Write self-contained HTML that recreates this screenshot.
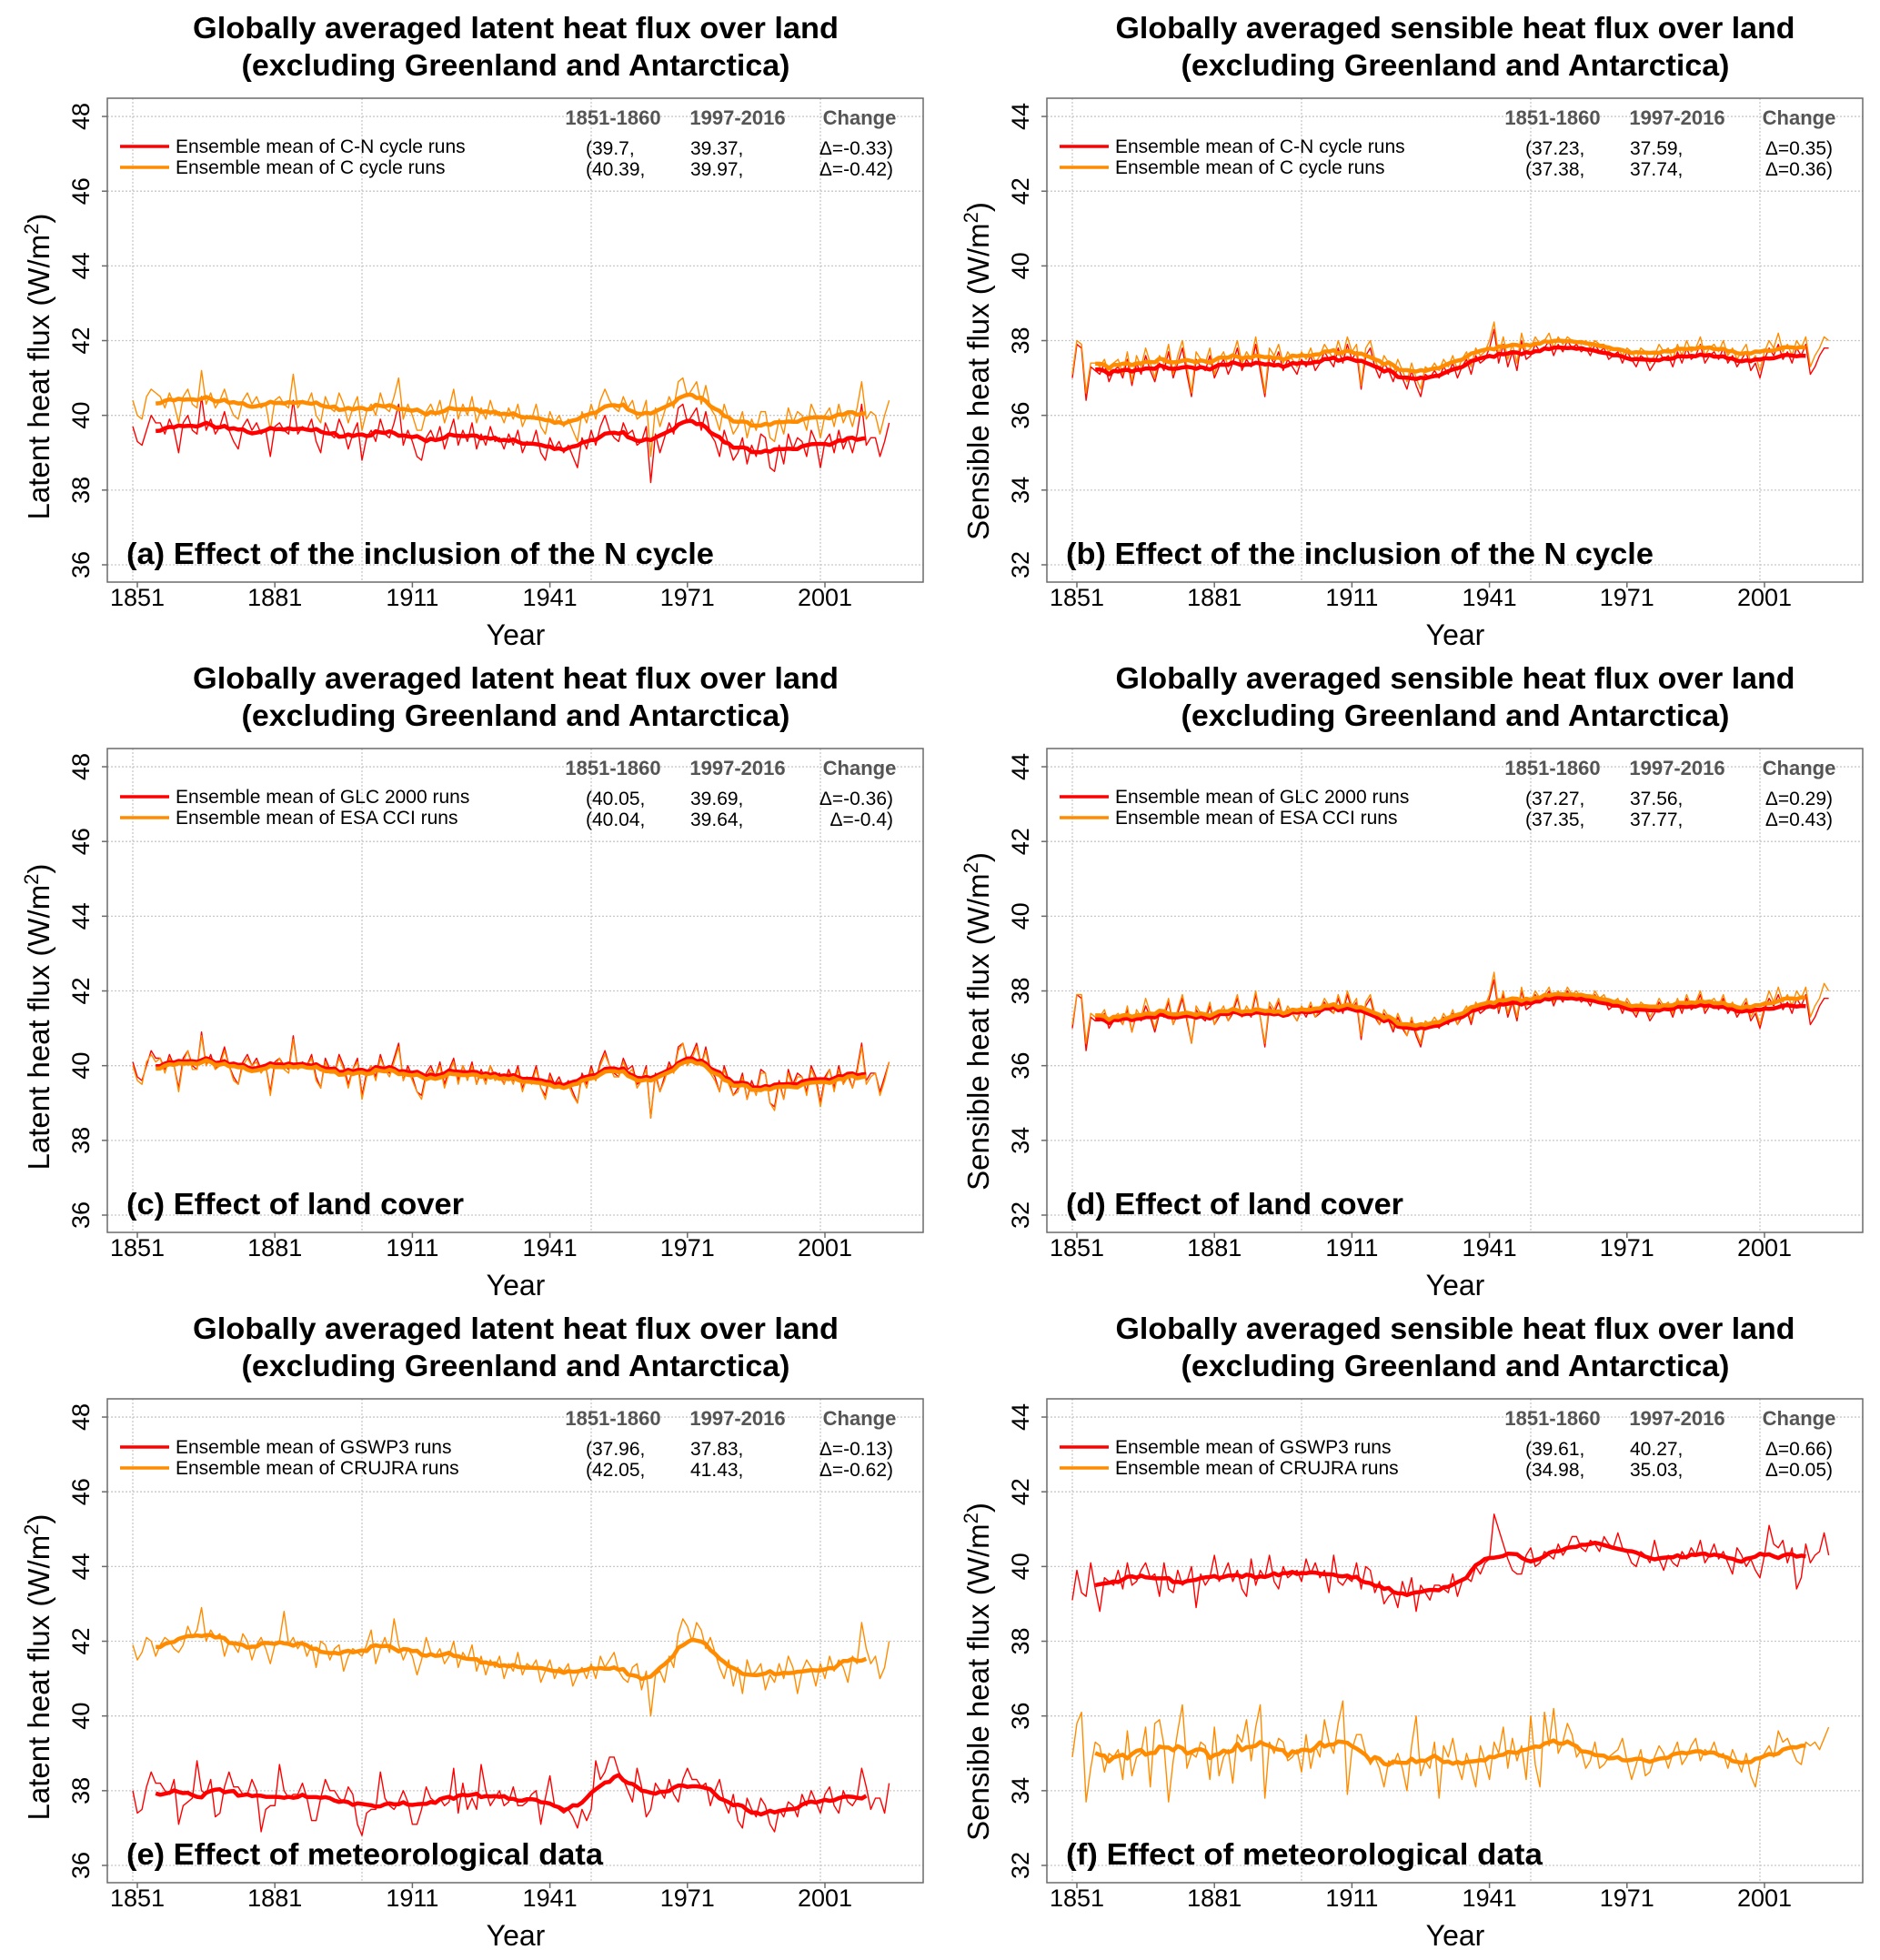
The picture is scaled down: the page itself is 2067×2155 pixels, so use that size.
<!DOCTYPE html>
<html><head><meta charset="utf-8">
<style>
html,body{margin:0;padding:0;background:#fff;}
svg{display:block;}
text{font-family:"Liberation Sans","DejaVu Sans",sans-serif;}
</style></head>
<body>
<svg id="fig" width="2067" height="2155" viewBox="0 0 2067 2155" xmlns="http://www.w3.org/2000/svg"></svg>
<script>
// ---- data (annual values 1851-2016) ----
const startYear = 1851;
const latentTicks = [36, 38, 40, 42, 44, 46, 48];
const sensibleTicks = [32, 34, 36, 38, 40, 42, 44];
const xTickLabels = [1851, 1881, 1911, 1941, 1971, 2001];
const xGridYears = [1851, 1901, 1951, 2001];

const aCN = [39.7,39.3,39.2,39.6,40.0,39.8,39.8,39.5,39.9,39.6, 39.0,39.8,40.0,39.6,39.5,40.5,39.6,39.9,39.5,39.7, 40.1,39.6,39.3,39.1,39.7,39.9,39.6,39.8,39.5,39.6, 38.9,39.7,39.8,39.6,39.5,40.4,39.5,39.7,39.6,39.9, 39.3,39.0,39.8,39.5,39.4,39.9,39.6,39.1,39.5,39.8, 38.8,39.4,39.6,39.3,39.9,39.5,39.4,39.8,40.3,39.2, 39.6,39.3,38.9,38.8,39.4,39.6,39.3,39.7,39.1,39.5, 39.9,39.2,39.6,39.3,39.8,39.1,39.5,39.2,39.7,39.3, 39.4,39.1,39.5,39.2,39.6,39.0,39.3,39.2,39.6,39.0, 38.8,39.4,39.1,39.3,39.0,39.2,38.9,38.6,39.4,39.1, 39.6,39.2,39.7,40.0,39.6,39.4,39.3,39.8,39.5,39.6, 39.2,39.3,39.7,38.2,39.5,39.0,39.4,39.8,39.5,40.2, 40.3,39.8,40.0,40.2,39.6,40.1,39.5,39.3,38.9,39.6, 39.2,38.8,39.0,39.4,38.7,39.2,38.9,39.5,39.4,38.6, 38.5,39.2,38.7,39.5,39.1,39.4,39.3,38.9,39.6,39.3, 38.6,39.3,39.5,39.0,39.6,39.1,39.4,39.0,39.5,40.3, 39.2,39.4,39.4,38.9,39.3,39.8];
const aC = [40.4,40.0,39.9,40.5,40.7,40.6,40.5,40.2,40.6,40.3, 39.8,40.5,40.7,40.3,40.2,41.2,40.3,40.6,40.2,40.4, 40.7,40.3,40.0,39.9,40.4,40.6,40.3,40.5,40.2,40.3, 39.6,40.4,40.5,40.3,40.2,41.1,40.2,40.4,40.3,40.6, 40.0,39.8,40.5,40.2,40.1,40.6,40.3,39.8,40.2,40.5, 39.6,40.1,40.3,40.0,40.6,40.2,40.1,40.5,41.0,39.9, 40.3,40.0,39.6,39.6,40.1,40.3,40.0,40.4,39.8,40.2, 40.7,39.9,40.3,40.0,40.5,39.8,40.2,39.9,40.4,40.0, 40.1,39.8,40.2,39.9,40.3,39.7,40.0,39.9,40.3,39.7, 39.5,40.1,39.8,40.0,39.7,39.9,39.6,39.3,40.1,39.8, 40.3,39.9,40.4,40.7,40.4,40.2,40.1,40.5,40.2,40.4, 39.9,40.0,40.4,38.9,40.2,39.7,40.1,40.5,40.2,40.9, 41.0,40.5,40.7,40.9,40.3,40.8,40.2,40.0,39.6,40.3, 39.9,39.5,39.7,40.1,39.4,39.9,39.6,40.1,40.1,39.4, 39.3,39.9,39.5,40.2,39.8,40.1,40.0,39.6,40.3,40.0, 39.4,40.0,40.2,39.7,40.3,39.8,40.1,39.7,40.2,40.9, 39.9,40.1,40.0,39.5,40.0,40.4];
const bCN = [37.0,37.9,37.8,36.4,37.3,37.2,37.1,37.4,36.9,37.2, 37.3,37.0,37.5,36.8,37.4,37.1,37.6,37.2,36.9,37.4, 37.2,37.7,37.0,37.4,37.8,37.1,36.5,37.5,37.3,37.2, 37.6,37.0,37.3,37.5,37.1,37.4,37.8,37.2,37.5,37.3, 37.9,37.2,36.5,37.6,37.4,37.7,37.2,37.5,37.3,37.1, 37.5,37.3,37.6,37.2,37.4,37.7,37.5,37.3,37.8,37.4, 37.9,37.5,37.7,36.7,37.6,37.8,37.3,37.0,37.4,37.2, 36.9,37.3,37.0,36.7,37.2,36.8,36.5,37.1,37.0,37.2, 37.0,37.3,37.1,37.4,37.0,37.3,37.5,37.1,37.6,37.4, 37.5,37.8,38.3,37.4,37.9,37.3,37.7,37.2,38.0,37.5, 37.6,37.9,37.7,37.8,38.0,37.6,37.9,37.7,38.0,37.8, 37.9,37.7,37.8,37.6,37.9,37.7,37.8,37.5,37.6,37.7, 37.4,37.7,37.5,37.3,37.6,37.5,37.2,37.4,37.7,37.5, 37.6,37.3,37.7,37.4,37.8,37.5,37.6,37.9,37.4,37.6, 37.7,37.5,37.8,37.4,37.6,37.3,37.5,37.7,37.2,37.4, 37.0,37.5,37.8,37.6,37.9,37.5,37.7,37.4,37.8,37.6, 37.9,37.1,37.3,37.6,37.8,37.8];
const bC = [37.1,38.0,37.9,36.6,37.4,37.4,37.3,37.5,37.1,37.4, 37.5,37.1,37.7,36.9,37.6,37.3,37.8,37.4,37.0,37.6, 37.4,37.9,37.1,37.6,38.0,37.3,36.6,37.7,37.5,37.4, 37.8,37.1,37.5,37.7,37.3,37.6,38.0,37.4,37.7,37.5, 38.1,37.4,36.6,37.8,37.6,37.9,37.4,37.7,37.5,37.3, 37.7,37.5,37.8,37.4,37.6,37.9,37.7,37.5,38.0,37.6, 38.1,37.7,37.9,36.8,37.8,38.0,37.5,37.2,37.6,37.4, 37.1,37.5,37.2,36.9,37.4,37.0,36.7,37.3,37.2,37.4, 37.2,37.5,37.3,37.6,37.2,37.5,37.7,37.3,37.8,37.6, 37.7,38.0,38.5,37.6,38.1,37.5,37.9,37.4,38.2,37.7, 37.8,38.1,37.9,38.0,38.2,37.8,38.1,37.9,38.1,38.0, 38.0,37.9,38.0,37.8,38.0,37.9,37.9,37.7,37.8,37.8, 37.6,37.8,37.7,37.5,37.8,37.7,37.4,37.6,37.9,37.7, 37.8,37.5,37.9,37.6,38.0,37.7,37.8,38.1,37.6,37.8, 37.9,37.7,38.0,37.6,37.8,37.5,37.7,37.9,37.4,37.6, 37.2,37.7,38.0,37.8,38.2,37.7,37.9,37.6,38.0,37.8, 38.1,37.3,37.6,37.8,38.1,38.0];
const cGLC = [40.1,39.7,39.6,40.0,40.4,40.2,40.2,39.9,40.3,40.0, 39.4,40.2,40.4,40.0,39.9,40.9,40.0,40.3,39.9,40.1, 40.5,40.0,39.7,39.5,40.1,40.3,40.0,40.2,39.9,40.0, 39.3,40.1,40.2,40.0,39.9,40.8,39.9,40.1,40.0,40.3, 39.7,39.4,40.2,39.9,39.8,40.3,40.0,39.5,39.9,40.2, 39.2,39.8,40.0,39.7,40.3,39.9,39.8,40.2,40.6,39.6, 40.0,39.7,39.3,39.2,39.8,40.0,39.7,40.1,39.5,39.9, 40.2,39.6,40.0,39.7,40.1,39.5,39.9,39.6,40.0,39.7, 39.8,39.5,39.9,39.6,40.0,39.4,39.7,39.6,40.0,39.4, 39.2,39.8,39.5,39.7,39.4,39.6,39.3,39.0,39.8,39.5, 40.0,39.6,40.1,40.4,40.0,39.8,39.7,40.2,39.9,40.0, 39.5,39.6,40.0,38.6,39.8,39.3,39.7,40.1,39.8,40.5, 40.6,40.1,40.3,40.6,40.0,40.5,39.9,39.7,39.3,40.0, 39.6,39.2,39.4,39.8,39.1,39.6,39.3,39.9,39.8,39.0, 38.9,39.6,39.1,39.9,39.5,39.8,39.7,39.3,40.0,39.7, 39.0,39.7,39.9,39.4,40.0,39.5,39.8,39.4,39.9,40.6, 39.6,39.8,39.8,39.3,39.7,40.1];
const cESA = [40.0,39.6,39.5,40.1,40.3,40.1,40.2,39.8,40.2,40.0, 39.3,40.1,40.4,39.9,39.9,40.8,40.0,40.2,39.9,40.0, 40.4,40.0,39.6,39.5,40.0,40.2,40.0,40.1,39.8,40.0, 39.2,40.0,40.2,39.9,39.8,40.7,39.9,40.0,40.0,40.2, 39.6,39.4,40.1,39.8,39.8,40.2,39.9,39.4,39.9,40.1, 39.1,39.7,40.0,39.6,40.2,39.9,39.7,40.1,40.5,39.6, 39.9,39.6,39.3,39.1,39.7,39.9,39.7,40.0,39.4,39.8, 40.1,39.5,40.0,39.6,40.0,39.5,39.8,39.5,40.0,39.6, 39.7,39.5,39.8,39.5,39.9,39.3,39.7,39.5,39.9,39.4, 39.1,39.7,39.4,39.6,39.4,39.5,39.2,39.0,39.7,39.4, 39.9,39.6,40.0,40.3,40.0,39.7,39.7,40.1,39.8,39.9, 39.4,39.6,39.9,38.6,39.7,39.3,39.6,40.0,39.8,40.4, 40.6,40.0,40.2,40.5,40.0,40.4,39.8,39.6,39.3,39.9, 39.5,39.2,39.3,39.7,39.1,39.5,39.2,39.8,39.8,39.0, 38.8,39.5,39.1,39.8,39.4,39.7,39.7,39.2,39.9,39.6, 38.9,39.6,39.9,39.3,39.9,39.5,39.7,39.4,39.8,40.5, 39.5,39.7,39.8,39.2,39.6,40.1];
const dGLC = [37.0,37.9,37.8,36.4,37.3,37.2,37.2,37.4,37.0,37.2, 37.3,37.1,37.5,36.9,37.4,37.2,37.6,37.3,36.9,37.4, 37.3,37.7,37.1,37.4,37.8,37.2,36.6,37.5,37.3,37.2, 37.6,37.1,37.3,37.5,37.2,37.4,37.8,37.3,37.5,37.3, 37.9,37.3,36.5,37.6,37.4,37.7,37.3,37.5,37.4,37.2, 37.5,37.3,37.6,37.3,37.4,37.7,37.5,37.4,37.8,37.4, 37.9,37.5,37.7,36.7,37.6,37.8,37.3,37.1,37.4,37.2, 36.9,37.3,37.0,36.8,37.2,36.8,36.5,37.1,37.0,37.2, 37.0,37.3,37.1,37.4,37.1,37.3,37.5,37.1,37.6,37.4, 37.5,37.8,38.3,37.4,37.9,37.3,37.7,37.2,38.0,37.5, 37.6,37.9,37.7,37.8,38.0,37.6,37.9,37.7,38.0,37.8, 37.9,37.7,37.8,37.6,37.9,37.7,37.8,37.5,37.6,37.7, 37.4,37.7,37.5,37.3,37.6,37.5,37.2,37.4,37.7,37.5, 37.6,37.3,37.7,37.4,37.8,37.5,37.6,37.9,37.4,37.6, 37.7,37.5,37.8,37.4,37.6,37.3,37.5,37.7,37.2,37.4, 37.0,37.5,37.8,37.6,37.9,37.5,37.7,37.4,37.8,37.6, 37.9,37.1,37.3,37.6,37.8,37.8];
const dESA = [37.1,37.9,37.9,36.6,37.4,37.3,37.3,37.5,37.1,37.3, 37.4,37.1,37.6,36.9,37.5,37.3,37.8,37.4,37.0,37.5, 37.4,37.8,37.1,37.5,37.9,37.3,36.6,37.6,37.4,37.3, 37.7,37.1,37.4,37.6,37.2,37.5,37.9,37.3,37.6,37.4, 38.0,37.3,36.6,37.7,37.5,37.8,37.3,37.6,37.4,37.2, 37.6,37.4,37.7,37.3,37.5,37.8,37.6,37.4,37.9,37.5, 38.0,37.6,37.8,36.8,37.7,37.9,37.4,37.1,37.5,37.3, 37.0,37.4,37.1,36.8,37.3,36.9,36.6,37.2,37.1,37.3, 37.1,37.4,37.2,37.5,37.1,37.4,37.6,37.2,37.7,37.5, 37.6,37.9,38.5,37.5,38.0,37.4,37.8,37.3,38.1,37.6, 37.7,38.0,37.8,37.9,38.1,37.7,38.0,37.8,38.1,37.9, 38.0,37.8,37.9,37.7,38.0,37.8,37.9,37.6,37.7,37.8, 37.5,37.8,37.6,37.4,37.7,37.6,37.3,37.5,37.8,37.6, 37.7,37.4,37.8,37.5,37.9,37.6,37.7,38.0,37.5,37.7, 37.8,37.6,37.9,37.5,37.7,37.4,37.6,37.8,37.3,37.5, 37.1,37.6,38.0,37.7,38.1,37.7,37.9,37.6,38.0,37.8, 38.1,37.3,37.6,37.8,38.2,38.0];
const eGSWP3 = [38.0,37.4,37.5,38.1,38.5,38.2,38.2,38.0,37.9,38.3, 37.1,37.6,37.7,37.8,38.8,38.0,37.9,38.3,37.3,37.4, 38.1,38.5,38.1,38.1,37.9,37.9,38.3,38.0,36.9,37.5, 37.6,37.6,38.7,38.0,37.8,37.9,37.9,38.2,37.8,37.2, 37.2,37.8,38.3,38.0,38.0,37.8,37.7,38.1,37.9,37.1, 36.8,37.4,37.5,37.5,38.5,37.8,37.6,37.5,37.7,38.0, 37.7,37.1,37.1,37.5,38.1,37.8,37.7,37.8,37.6,37.7, 38.6,37.4,38.2,37.5,37.8,37.5,38.7,38.0,37.6,37.8, 38.0,37.6,37.7,38.1,37.6,37.6,37.7,37.9,38.0,37.1, 37.8,38.4,37.6,37.5,37.4,37.5,37.3,37.0,37.5,37.2, 37.5,38.8,38.3,38.5,38.9,38.9,38.5,38.3,38.0,37.7, 38.6,38.1,37.3,37.5,38.2,38.0,37.8,38.3,37.9,37.7, 38.3,38.6,38.3,38.3,38.1,38.2,37.6,38.0,38.3,37.7, 37.4,37.9,37.2,37.0,37.8,37.5,37.3,37.8,37.6,37.1, 36.9,37.5,37.3,37.7,37.6,37.3,37.9,37.6,38.0,37.7, 37.4,37.9,38.1,37.6,37.4,38.0,37.7,37.6,37.8,38.6, 38.1,37.5,37.8,37.8,37.4,38.2];
const eCRUJRA = [41.9,41.5,41.7,42.1,42.0,41.6,41.9,42.1,42.0,41.8, 41.7,41.9,42.4,42.1,42.3,42.9,42.0,42.3,42.1,42.2, 41.6,42.0,41.9,41.7,42.2,42.0,41.5,41.9,42.1,41.8, 41.4,41.9,42.0,42.8,41.9,42.1,41.8,42.0,41.6,41.9, 41.3,42.0,41.9,41.5,41.8,41.9,41.2,41.6,41.8,41.7, 41.6,41.9,42.3,41.4,41.8,42.1,41.7,42.6,41.9,41.5, 41.8,41.6,41.1,41.5,42.1,41.7,41.6,41.8,41.4,41.6, 42.0,41.3,41.7,41.5,41.9,41.2,41.6,41.1,41.5,41.3, 41.6,41.0,41.4,41.2,41.7,41.1,41.4,41.3,41.5,40.9, 41.2,41.5,41.0,41.3,41.2,41.4,40.8,41.1,41.3,41.0, 41.4,41.0,41.6,41.3,41.5,41.7,41.2,41.0,40.9,41.3, 41.4,40.7,41.2,40.0,41.1,41.2,40.9,41.6,41.3,42.2, 42.6,42.4,42.0,42.5,42.3,41.8,42.1,41.7,41.3,41.0, 41.5,40.8,41.3,40.6,41.5,41.1,41.2,41.4,40.7,41.1, 40.9,41.4,41.0,41.6,41.3,40.6,41.2,41.5,41.3,40.8, 41.4,41.0,41.6,41.2,41.5,41.3,40.9,41.6,41.4,42.5, 41.8,41.4,41.6,41.0,41.3,42.0];
const fGSWP3 = [39.1,39.9,39.3,39.2,40.1,39.4,38.8,39.7,39.6,39.5, 39.9,39.4,40.1,39.5,39.6,39.9,40.1,39.7,39.8,39.2, 40.1,39.4,39.3,39.9,39.5,39.6,40.0,38.9,39.8,39.5, 39.7,40.3,39.6,39.8,40.1,39.6,39.9,39.4,39.2,40.2, 39.5,39.9,39.7,40.3,39.6,39.4,40.0,39.7,39.8,39.9, 39.6,40.2,39.8,40.1,39.7,39.9,39.3,40.3,39.6,39.5, 39.7,39.6,40.1,39.4,40.0,39.9,39.3,39.6,39.0,39.2, 39.3,38.9,39.6,39.2,39.7,38.8,39.5,39.3,39.1,39.5, 39.5,39.4,39.3,39.8,39.2,39.6,39.7,39.6,40.0,39.8, 40.1,40.2,41.4,41.0,40.6,40.2,39.9,39.8,39.8,40.3, 40.5,40.0,40.1,40.4,40.3,40.2,40.6,40.3,40.5,40.8, 40.8,40.5,40.4,40.7,40.6,40.4,40.8,40.6,40.5,40.9, 40.5,40.4,40.1,40.0,40.4,40.3,40.1,40.7,40.2,39.9, 40.3,40.1,40.0,40.4,40.2,40.5,40.3,40.7,40.1,40.3, 40.6,40.2,40.4,40.1,39.8,40.5,40.3,40.0,40.2,39.9, 39.7,40.3,41.1,40.6,40.5,40.7,40.1,40.5,39.4,39.7, 40.6,40.1,40.3,40.4,40.9,40.3];
const fCRUJRA = [34.9,35.8,36.1,33.7,34.6,35.3,35.2,34.5,35.0,34.9, 35.1,34.3,35.6,34.4,34.9,35.0,35.7,34.1,35.8,35.9, 35.2,33.7,34.8,35.6,36.3,34.6,35.0,34.9,35.3,35.2, 34.3,35.7,34.4,34.9,35.1,34.2,35.5,35.3,35.9,34.8, 35.7,36.3,33.8,35.3,35.0,35.4,35.3,34.8,34.9,35.1, 34.5,35.5,34.6,35.2,34.9,35.9,35.3,35.0,35.8,36.4, 33.9,35.1,35.5,35.5,35.0,34.7,34.9,34.6,34.1,34.8, 34.7,35.0,34.6,34.0,35.2,36.0,34.4,34.8,34.6,35.3, 33.8,35.2,34.9,35.4,34.7,34.3,35.0,34.6,34.1,35.2, 34.8,34.3,35.3,35.0,35.7,34.6,35.4,34.8,35.2,34.3, 36.0,34.7,34.1,36.1,35.2,36.2,35.0,35.3,35.8,35.5, 34.9,35.1,34.6,34.8,35.3,34.6,34.7,34.9,35.0,35.1, 35.4,34.8,34.3,34.7,35.1,34.4,34.5,34.9,35.2,35.0, 34.6,35.0,35.3,34.7,34.9,35.2,35.4,34.8,35.1,35.0, 35.3,34.9,35.0,34.6,35.1,34.8,34.5,35.0,34.4,34.1, 34.8,35.0,35.2,34.9,35.6,35.3,35.4,35.1,34.8,34.7, 35.3,35.2,35.3,35.1,35.4,35.7];

const panelLabels = ["(a) Effect of the inclusion of the N cycle","(b) Effect of the inclusion of the N cycle","(c) Effect of land cover","(d) Effect of land cover","(e) Effect of meteorological data","(f) Effect of meteorological data"];
const legendNames = [["C-N cycle runs","C cycle runs"],["C-N cycle runs","C cycle runs"],["GLC 2000 runs","ESA CCI runs"],["GLC 2000 runs","ESA CCI runs"],["GSWP3 runs","CRUJRA runs"],["GSWP3 runs","CRUJRA runs"]];
const startVals = [["39.7","40.39"],["37.23","37.38"],["40.05","40.04"],["37.27","37.35"],["37.96","42.05"],["39.61","34.98"]];
const endVals = [["39.37","39.97"],["37.59","37.74"],["39.69","39.64"],["37.56","37.77"],["37.83","41.43"],["40.27","35.03"]];
const changeVals = [["-0.33","-0.42"],["0.35","0.36"],["-0.36","-0.4"],["0.29","0.43"],["-0.13","-0.62"],["0.66","0.05"]];

const series = [[aCN,aC],[bCN,bC],[cGLC,cESA],[dGLC,dESA],[eGSWP3,eCRUJRA],[fGSWP3,fCRUJRA]];

// ---- drawing ----
const NS = "http://www.w3.org/2000/svg";
const svg = document.getElementById('fig');
const RED = "#ff0000", ORANGE = "#ff8c00";
function mk(tag, attrs, parent){ const e=document.createElementNS(NS,tag); for(const k in attrs) e.setAttribute(k,attrs[k]); (parent||svg).appendChild(e); return e; }
function smooth(arr){ const out=[]; for(let i=5;i<arr.length-5;i++){ let s=0; for(let j=i-5;j<=i+5;j++) s+=arr[j]; out.push([i, s/11]); } return out; }

for(let p=0;p<6;p++){
  const col=p%2, row=Math.floor(p/2);
  const ox=col*1033, oy=row*715;
  const latent = col===0;
  const ticks = latent?latentTicks:sensibleTicks;
  const ymin = ticks[0];
  const L=118+ox, R=1015+ox, T=108+oy, B=640+oy;
  const X = yr => 146+ox+(yr-startYear)*5.04;
  const Y = v => 621+oy-(v-ymin)*41.08;
  const g = mk('g',{});
  
  

  // titles
  const t1 = mk('text',{x:567+ox, y:42+oy, 'text-anchor':'middle','font-size':33,'font-weight':'bold',textLength: latent?710:747, lengthAdjust:'spacingAndGlyphs'}, g);
  t1.textContent = latent?"Globally averaged latent heat flux over land":"Globally averaged sensible heat flux over land";
   
  const t2 = mk('text',{x:567+ox, y:83+oy, 'text-anchor':'middle','font-size':33,'font-weight':'bold',textLength:603, lengthAdjust:'spacingAndGlyphs'}, g);
  t2.textContent = "(excluding Greenland and Antarctica)";
   

  // grid
  ticks.forEach(v=>{ const l=mk('line',{x1:L,x2:R,y1:Y(v),y2:Y(v),stroke:'#c8c8c8','stroke-width':1.3,'stroke-dasharray':'2,2'},g);
      });
  xGridYears.forEach(yr=>{ const l=mk('line',{x1:X(yr),x2:X(yr),y1:T,y2:B,stroke:'#c8c8c8','stroke-width':1.3,'stroke-dasharray':'2,2'},g);
      });

  // series
  series[p].forEach((arr,si)=>{
    const color = si===0?RED:ORANGE;
    const pts = arr.map((v,i)=>X(startYear+i).toFixed(1)+','+Y(v).toFixed(1)).join(' ');
    const pl = mk('polyline',{points:pts,fill:'none',stroke:color,'stroke-width':1.4,'stroke-linejoin':'round'},g);
    
    
  });
  series[p].forEach((arr,si)=>{
    const color = si===0?RED:ORANGE;
    const pts = smooth(arr).map(([i,v])=>X(startYear+i).toFixed(1)+','+Y(v).toFixed(1)).join(' ');
    const pl = mk('polyline',{points:pts,fill:'none',stroke:color,'stroke-width':4.5,'stroke-linejoin':'round'},g);
    
    
  });

  // frame
  const fr = mk('rect',{x:L,y:T,width:R-L,height:B-T,fill:'none',stroke:'#6a6a6a','stroke-width':1.5},g);
   

  // y ticks
  ticks.forEach(v=>{
    const tk=mk('line',{x1:L-6,x2:L,y1:Y(v),y2:Y(v),stroke:'#6a6a6a','stroke-width':1.5},g);
     
    const tx=mk('text',{x:0,y:0,'font-size':27,'text-anchor':'middle',transform:`translate(${98+ox},${Y(v)}) rotate(-90)`},g);
    tx.textContent=String(v);
     
  });
  // x ticks
  xTickLabels.forEach(yr=>{
    const x=X(yr)+5;
    const tk=mk('line',{x1:x,x2:x,y1:B,y2:B+6,stroke:'#6a6a6a','stroke-width':1.5},g);
     
    const tx=mk('text',{x:x,y:666+oy,'font-size':27,'text-anchor':'middle'},g);
    tx.textContent=String(yr);
     
  });
  // axis titles
  const xt=mk('text',{x:567+ox,y:709+oy,'font-size':32,'text-anchor':'middle'},g);
  xt.textContent='Year';
   
  const yt=mk('text',{x:0,y:0,'font-size':33,'text-anchor':'middle','font-family':'DejaVu Sans, sans-serif',transform:`translate(${54+ox},${(latent?403:408)+oy}) rotate(-90)`},g);
   
  yt.innerHTML=(latent?'Latent':'Sensible')+' heat flux (W/m<tspan dy="-12" font-size="22">2</tspan><tspan dy="12">)</tspan>';

  // legend
  const hdr=[['1851-1860',674],['1997-2016',811],['Change',945]];
  hdr.forEach(([s,x])=>{ const h=mk('text',{x:x+ox,y:137+oy,'font-size':22,'font-weight':'bold',fill:'#555','text-anchor':'middle'},g);
    h.textContent=s;   });
  [0,1].forEach(si=>{
    const yy=(si===0?161:184)+oy;
    const color=si===0?RED:ORANGE;
    const ln=mk('line',{x1:132+ox,x2:186+ox,y1:yy,y2:yy,stroke:color,'stroke-width':3.5},g);
     
    const lt=mk('text',{x:193+ox,y:yy+7,'font-size':21,'font-family':'DejaVu Sans, sans-serif'},g);
    lt.textContent='Ensemble mean of '+legendNames[p][si];
     
    const a=mk('text',{x:644+ox,y:yy+9,'font-size':21,'font-family':'DejaVu Sans, sans-serif'},g);
    a.textContent='('+startVals[p][si]+',';
     
    const b=mk('text',{x:759+ox,y:yy+9,'font-size':21,'font-family':'DejaVu Sans, sans-serif'},g);
    b.textContent=endVals[p][si]+',';
     
    const c=mk('text',{x:982+ox,y:yy+9,'font-size':21,'text-anchor':'end','font-family':'DejaVu Sans, sans-serif'},g);
    c.textContent='\u0394='+changeVals[p][si]+')';
     
  });

  // panel label
  const pl=mk('text',{x:139+ox,y:620+oy,'font-size':33,'font-weight':'bold',textLength:[646,646,371,371,524,524][p],lengthAdjust:'spacingAndGlyphs'},g);
  pl.textContent=panelLabels[p];
   
}
</script>
</body></html>
